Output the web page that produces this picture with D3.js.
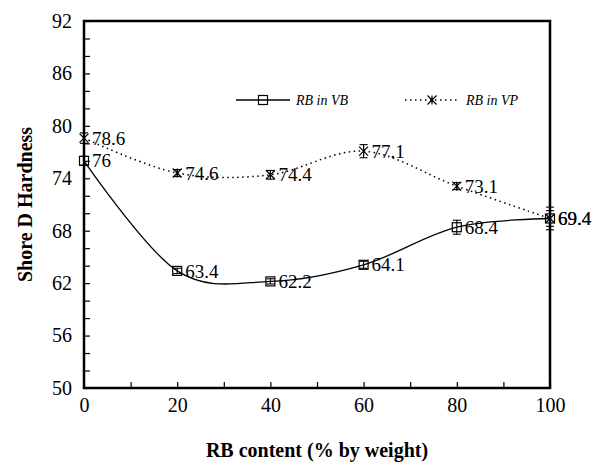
<!DOCTYPE html>
<html>
<head>
<meta charset="utf-8">
<script src="https://cdn.jsdelivr.net/npm/d3@7"></script>
<style>
  html, body { margin: 0; padding: 0; background: #fff; }
</style>
</head>
<body>
<svg id="chart" width="598" height="474" font-family="Liberation Serif"></svg>
<script>
// RB content (% by weight)
const rbContent = [0, 20, 40, 60, 80, 100];
// Shore D hardness, RB in VB
const hardnessVB = [76, 63.4, 62.2, 64.1, 68.4, 69.4];
const errorVB = [0.5, 0.3, 0.3, 0.4, 0.8, 0.9];
// Shore D hardness, RB in VP
const hardnessVP = [78.6, 74.6, 74.4, 77.1, 73.1, 69.4];
const errorVP = [0.6, 0.4, 0.5, 0.75, 0.4, 1.3];

const xTicks = [0, 20, 40, 60, 80, 100];
const xMinorTicks = [10, 30, 50, 70, 90];
const yTicks = [50, 56, 62, 68, 74, 80, 86, 92];
const yMinorTicks = d3.range(52, 92, 2).filter(v => !yTicks.includes(v));

const seriesNames = ["RB in VB", "RB in VP"];
const SERIF = "Liberation Serif";

const svg = d3.select("#chart");
const x = d3.scaleLinear().domain([0, 100]).range([84, 550]);
const y = d3.scaleLinear().domain([50, 92]).range([388, 21]);

// axes with inward ticks
svg.append("g").attr("transform", `translate(0,${y(50)})`)
  .call(d3.axisBottom(x).tickValues(xTicks).tickSizeInner(-6).tickSizeOuter(0).tickPadding(10).tickFormat(d3.format("d")));
svg.append("g").attr("transform", `translate(0,${y(50)})`)
  .call(d3.axisBottom(x).tickValues(xMinorTicks).tickSizeInner(-6).tickSizeOuter(0).tickFormat(""));
svg.append("g").attr("transform", `translate(${x(0)},0)`)
  .call(d3.axisLeft(y).tickValues(yTicks).tickSizeInner(-6).tickSizeOuter(0).tickPadding(12).tickFormat(d3.format("d")));
svg.append("g").attr("transform", `translate(${x(0)},0)`)
  .call(d3.axisLeft(y).tickValues(yMinorTicks).tickSizeInner(-6).tickSizeOuter(0).tickFormat(""));

svg.selectAll(".domain").remove();
svg.selectAll(".tick line").attr("stroke", "#000").attr("stroke-width", 1.2);
svg.selectAll(".tick text")
  .attr("font-size", 20)
  .attr("fill", "#000");

// plot frame
svg.append("rect")
  .attr("x", x(0)).attr("y", y(92))
  .attr("width", x(100) - x(0)).attr("height", y(50) - y(92))
  .attr("fill", "none").attr("stroke", "#000").attr("stroke-width", 2.5);

// axis titles
svg.append("text")
  .attr("x", (x(0) + x(100)) / 2).attr("y", 457)
  .attr("text-anchor", "middle")
  .attr("font-size", 20).attr("font-weight", "bold")
  .text("RB content (% by weight)");
svg.append("text")
  .attr("transform", `translate(32,${(y(50) + y(92)) / 2}) rotate(-90)`)
  .attr("text-anchor", "middle")
  .attr("font-size", 20).attr("font-weight", "bold")
  .text("Shore D Hardness");

const line = d3.line()
  .x((d, i) => x(rbContent[i]))
  .y(d => y(d))
  .curve(d3.curveCardinal.tension(0));

// curves
svg.append("path").datum(hardnessVB)
  .attr("d", line).attr("fill", "none")
  .attr("stroke", "#000").attr("stroke-width", 1.3);
svg.append("path").datum(hardnessVP)
  .attr("d", line).attr("fill", "none")
  .attr("stroke", "#000").attr("stroke-width", 1.5)
  .attr("stroke-dasharray", "1.5,3.5");

// error bars
function errorBars(values, errors) {
  const g = svg.append("g").attr("stroke", "#000").attr("stroke-width", 1.1);
  values.forEach((v, i) => {
    const cx = x(rbContent[i]);
    const y0 = y(v - errors[i]), y1 = y(v + errors[i]);
    g.append("line").attr("x1", cx).attr("x2", cx).attr("y1", y0).attr("y2", y1);
    g.append("line").attr("x1", cx - 4).attr("x2", cx + 4).attr("y1", y0).attr("y2", y0);
    g.append("line").attr("x1", cx - 4).attr("x2", cx + 4).attr("y1", y1).attr("y2", y1);
  });
}
errorBars(hardnessVB, errorVB);
errorBars(hardnessVP, errorVP);

// markers
function squareMarker(g, cx, cy) {
  g.append("rect").attr("x", cx - 4.5).attr("y", cy - 4.5)
    .attr("width", 9).attr("height", 9)
    .attr("fill", "none").attr("stroke", "#000").attr("stroke-width", 1.2);
}
function starMarker(g, cx, cy) {
  const s = 4.5;
  g.append("path")
    .attr("d", `M${cx - s},${cy - s}L${cx + s},${cy + s}M${cx - s},${cy + s}L${cx + s},${cy - s}M${cx},${cy - s}L${cx},${cy + s}`)
    .attr("fill", "none").attr("stroke", "#000").attr("stroke-width", 1.2);
}
const gm = svg.append("g");
hardnessVB.forEach((v, i) => squareMarker(gm, x(rbContent[i]), y(v)));
hardnessVP.forEach((v, i) => starMarker(gm, x(rbContent[i]), y(v)));

// value labels
function valueLabels(values) {
  svg.append("g").selectAll("text").data(values).join("text")
    .attr("x", (d, i) => x(rbContent[i]) + 8)
    .attr("y", d => y(d))
    .attr("dy", "0.35em")
    .attr("font-size", 19)
    .attr("fill", "#000")
    .text(d => d);
}
valueLabels(hardnessVB);
valueLabels(hardnessVP);

// legend
const legendY = 100;
const lg = svg.append("g");
lg.append("line").attr("x1", 236).attr("x2", 290).attr("y1", legendY).attr("y2", legendY)
  .attr("stroke", "#000").attr("stroke-width", 1.3);
squareMarker(lg, 263, legendY);
lg.append("text").attr("x", 296).attr("y", legendY).attr("dy", "0.35em")
  .attr("font-size", 14).attr("font-style", "italic").text(seriesNames[0]);
lg.append("line").attr("x1", 405).attr("x2", 460).attr("y1", legendY).attr("y2", legendY)
  .attr("stroke", "#000").attr("stroke-width", 1.5).attr("stroke-dasharray", "1.5,3.5");
starMarker(lg, 432, legendY);
lg.append("text").attr("x", 466).attr("y", legendY).attr("dy", "0.35em")
  .attr("font-size", 14).attr("font-style", "italic").text(seriesNames[1]);

// apply the serif face to every label inline
svg.selectAll("text").style("font-family", SERIF);
</script>
</body>
</html>
